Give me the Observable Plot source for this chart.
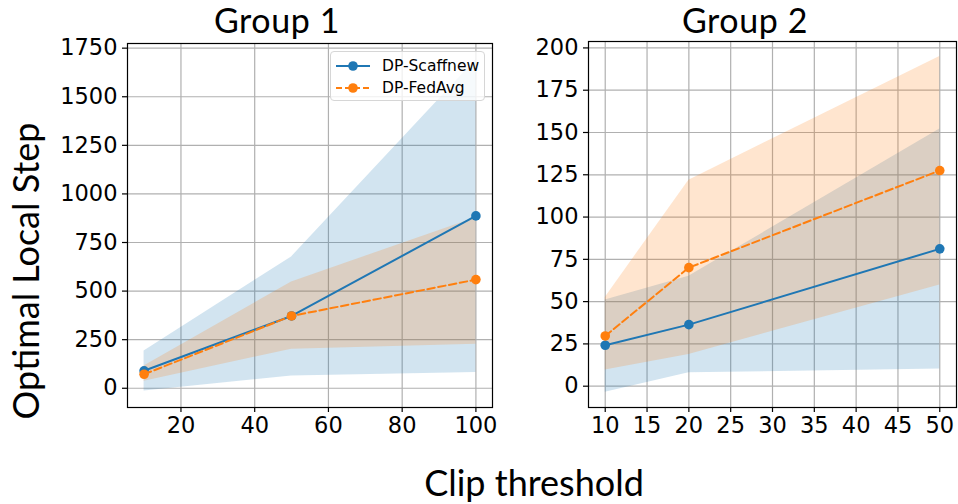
<!DOCTYPE html>
<html>
<head>
<meta charset="utf-8">
<script src="https://cdn.jsdelivr.net/npm/d3@7"></script>
<script src="https://cdn.jsdelivr.net/npm/@observablehq/plot@0.6"></script>
<style>
  html, body { margin: 0; padding: 0; background: #fff; }
  #fig { position: relative; width: 958px; height: 504px; overflow: hidden; background: #fff; }
  #fig svg.panel { position: absolute; top: 0; }
  .lbl { position: absolute; font-family: Lato, "Open Sans", sans-serif; color: #000; white-space: nowrap; line-height: 1.2; }
  .legend { position: absolute; left: 330px; top: 51px; width: 155px; height: 50px; box-sizing: border-box;
            border: 1px solid #d6d6d6; border-radius: 4px; background: rgba(255,255,255,0.8);
            font-family: "DejaVu Sans", sans-serif; font-size: 15.5px; }
  .legend .row { position: absolute; left: 0; height: 20px; display: flex; align-items: center; }
  .legend svg { display: block; }
</style>
</head>
<body>
<div id="fig"></div>
<script>
// Group 1: clip thresholds and optimal local step (mean with spread band)
const clipG1 = [10, 50, 100];
const scaffG1Mean = [90, 372, 887];
const scaffG1Lo = [-14, 63, 81];
const scaffG1Hi = [192, 676, 1690];
const fedG1Mean = [72, 372, 559];
const fedG1Lo = [36, 201, 226];
const fedG1Hi = [115, 547, 878];

// Group 2
const clipG2 = [10, 20, 50];
const scaffG2Mean = [24.2, 36.4, 81.2];
const scaffG2Lo = [-3.6, 7.9, 10.1];
const scaffG2Hi = [51, 65, 152];
const fedG2Mean = [29.7, 70.1, 127.5];
const fedG2Lo = [9.5, 18.8, 59.8];
const fedG2Hi = [52.5, 121.8, 195];

// Tick values
const xTicksG1 = [20, 40, 60, 80, 100];
const yTicksG1 = [0, 250, 500, 750, 1000, 1250, 1500, 1750];
const xTicksG2 = [10, 15, 20, 25, 30, 35, 40, 45, 50];
const yTicksG2 = [0, 25, 50, 75, 100, 125, 150, 175, 200];

const seriesNames = ["DP-Scaffnew", "DP-FedAvg"];
const BLUE = "#1f77b4", ORANGE = "#ff7f0e";

function rows(xs, mean, lo, hi) {
  return xs.map((x, i) => ({x, mean: mean[i], lo: lo[i], hi: hi[i]}));
}

function panel({xs, scaff, fed, xDomain, yDomain, xTicks, yTicks, width, height, margins}) {
  const s = rows(xs, ...scaff);
  const f = rows(xs, ...fed);
  const fmt = d => String(d);
  return Plot.plot({
    width, height,
    marginLeft: margins[0], marginRight: margins[1], marginTop: margins[2], marginBottom: margins[3],
    style: {fontFamily: "'DejaVu Sans', sans-serif", fontSize: "22.5px", color: "#000", background: "transparent"},
    x: {domain: xDomain},
    y: {domain: yDomain},
    marks: [
      Plot.gridX(xTicks, {stroke: "#b0b0b0", strokeOpacity: 1, strokeWidth: 1.2}),
      Plot.gridY(yTicks, {stroke: "#b0b0b0", strokeOpacity: 1, strokeWidth: 1.2}),
      Plot.areaY(s, {x: "x", y1: "lo", y2: "hi", fill: BLUE, fillOpacity: 0.2}),
      Plot.areaY(f, {x: "x", y1: "lo", y2: "hi", fill: ORANGE, fillOpacity: 0.2}),
      Plot.line(s, {x: "x", y: "mean", stroke: BLUE, strokeWidth: 2}),
      Plot.dot(s, {x: "x", y: "mean", fill: BLUE, r: 4.8}),
      Plot.line(f, {x: "x", y: "mean", stroke: ORANGE, strokeWidth: 2, strokeDasharray: "7.5,3.5"}),
      Plot.dot(f, {x: "x", y: "mean", fill: ORANGE, r: 4.8}),
      Plot.frame({stroke: "#000", strokeWidth: 1.2}),
      Plot.axisX(xTicks, {tickSize: 5, tickPadding: 5, tickFormat: fmt, label: null, fontSize: 22.5, strokeWidth: 1.2}),
      Plot.axisY(yTicks, {tickSize: 5, tickPadding: 5, tickFormat: fmt, label: null, fontSize: 22.5, strokeWidth: 1.2})
    ]
  });
}

const fig = document.getElementById("fig");

const left = panel({
  xs: clipG1,
  scaff: [scaffG1Mean, scaffG1Lo, scaffG1Hi],
  fed: [fedG1Mean, fedG1Lo, fedG1Hi],
  xDomain: [5.5, 104.5], yDomain: [-99, 1774],
  xTicks: xTicksG1, yTicks: yTicksG1,
  width: 500, height: 445, margins: [127, 8, 43, 38]
});
left.classList.add("panel");
left.style.left = "0px";
fig.appendChild(left);

const right = panel({
  xs: clipG2,
  scaff: [scaffG2Mean, scaffG2Lo, scaffG2Hi],
  fed: [fedG2Mean, fedG2Lo, fedG2Hi],
  xDomain: [8, 52], yDomain: [-12.6, 203.8],
  xTicks: xTicksG2, yTicks: yTicksG2,
  width: 458, height: 445, margins: [88, 2, 41, 38]
});
right.classList.add("panel");
right.style.left = "500px";
fig.appendChild(right);

// Titles and axis labels
function label(text, css) {
  const d = document.createElement("div");
  d.className = "lbl";
  d.textContent = text;
  Object.assign(d.style, css);
  fig.appendChild(d);
  return d;
}
label("Group 1", {left: "277px", top: "0px", fontSize: "34px", letterSpacing: "0.6px", transform: "translateX(-50%)"});
label("Group 2", {left: "745px", top: "0px", fontSize: "34px", letterSpacing: "0.6px", transform: "translateX(-50%)"});
label("Clip threshold", {left: "534px", top: "461px", fontSize: "36px", transform: "translateX(-50%)"});
label("Optimal Local Step", {left: "26px", top: "271px", fontSize: "36px", transform: "translate(-50%, -50%) rotate(-90deg)"});

// Legend for the Group 1 panel
const legend = document.createElement("div");
legend.className = "legend";
fig.appendChild(legend);
[[BLUE, null], [ORANGE, "6,3"]].forEach(([color, dash], i) => {
  const row = document.createElement("div");
  row.className = "row";
  row.style.top = (4 + i * 21.5) + "px";
  const ns = "http://www.w3.org/2000/svg";
  const svg = document.createElementNS(ns, "svg");
  svg.setAttribute("width", "50");
  svg.setAttribute("height", "20");
  const ln = document.createElementNS(ns, "line");
  ln.setAttribute("x1", "5"); ln.setAttribute("x2", "39");
  ln.setAttribute("y1", "10"); ln.setAttribute("y2", "10");
  ln.setAttribute("stroke", color); ln.setAttribute("stroke-width", "2");
  if (dash) ln.setAttribute("stroke-dasharray", dash);
  const c = document.createElementNS(ns, "circle");
  c.setAttribute("cx", "22"); c.setAttribute("cy", "10"); c.setAttribute("r", "4.8");
  c.setAttribute("fill", color);
  svg.append(ln, c);
  const t = document.createElement("span");
  t.textContent = seriesNames[i];
  t.style.marginLeft = "1px";
  row.append(svg, t);
  legend.appendChild(row);
});
</script>
</body>
</html>
